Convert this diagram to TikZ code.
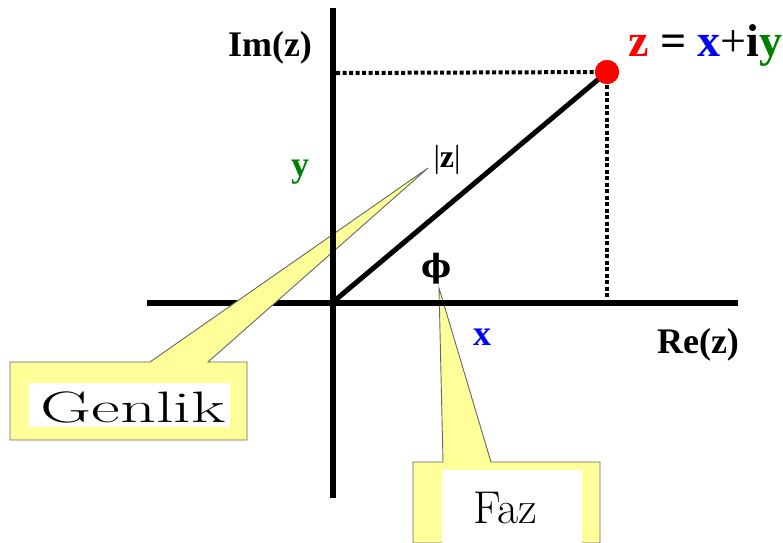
\documentclass[tikz,border=0pt]{standalone}
\usepackage{fontspec}
\newfontfamily\tnr{Liberation Serif}
\newfontfamily\dvs{DejaVu Serif}
\definecolor{callyellow}{RGB}{255,255,153}
\definecolor{zgreen}{RGB}{0,128,0}
\begin{document}
\begin{tikzpicture}[x=1pt,y=-1pt,
  axis/.style={line width=6pt},
  guide/.style={line width=4pt,dash pattern=on 4pt off 2.5pt},
  callout/.style={fill=callyellow,draw=black!60,line width=0.9pt,line join=miter},
  lbl/.style={font=\tnr\bfseries\fontsize{36}{40}\selectfont,inner sep=0pt}]
\useasboundingbox (0,0) rectangle (783,542);
% Faz callout (under the axis)
\draw[callout] (413,462) -- (443,462) -- (439,288) -- (491,462) -- (600,462) -- (600,543) -- (413,543) -- cycle;
\fill[white] (442,470) rectangle (582,543);
\node[inner sep=0pt,anchor=base,font=\fontsize{46}{50}\selectfont] (faz) at (505,523) {Faz};
% horizontal axis
\coordinate (xl) at (147,303);
\coordinate (xr) at (738,303);
\draw[axis] (xl) -- (xr);
% Genlik callout
\draw[callout] (10,362) -- (150,362) -- (428,168) -- (208,362) -- (247,362) -- (247,440) -- (10,440) -- cycle;
\fill[white] (29,383) rectangle (230,427);
\node[inner sep=0pt,anchor=base,xscale=1.6,font=\fontsize{44}{48}\selectfont] (genlik) at (133,422) {Genlik};
% vertical axis
\coordinate (yb) at (333,498);
\coordinate (yt) at (333,8);
\draw[axis] (yb) -- (yt);
% point, modulus line and guides
\coordinate (o) at (333,302);
\coordinate (iy) at (336,73);
\coordinate (rx) at (607,302);
\node[circle,fill=red,minimum size=24pt,inner sep=0pt] (z) at (607,72) {};
\draw[line width=5pt] (o) -- (z.center);
\draw[guide] (iy) -- (z.center);
\draw[guide] (z.center) -- (rx);
\fill[red] (z.center) circle (12pt);
% labels
\node[lbl] (im) at (270,48) {Im(z)};
\node[lbl] (re) at (698,345) {Re(z)};
\node[lbl,text=zgreen] (ylab) at (300,172) {y};
\node[lbl,text=blue] (xlab) at (482,337) {x};
\node[inner sep=0pt,font=\tnr\fontsize{32}{36}\selectfont] (mod) at (447,160) {|\textbf{z}|};
\node[inner sep=0pt,font=\dvs\bfseries\fontsize{32}{36}\selectfont] (phi) at (437,269) {ϕ};
\node[inner sep=0pt,anchor=west,font=\tnr\bfseries\fontsize{46}{50}\selectfont] (eq) at (628,45)
  {\textcolor{red}{z} = \textcolor{blue}{x}\textmd{+}i\textcolor{zgreen}{y}};
\end{tikzpicture}
\end{document}
